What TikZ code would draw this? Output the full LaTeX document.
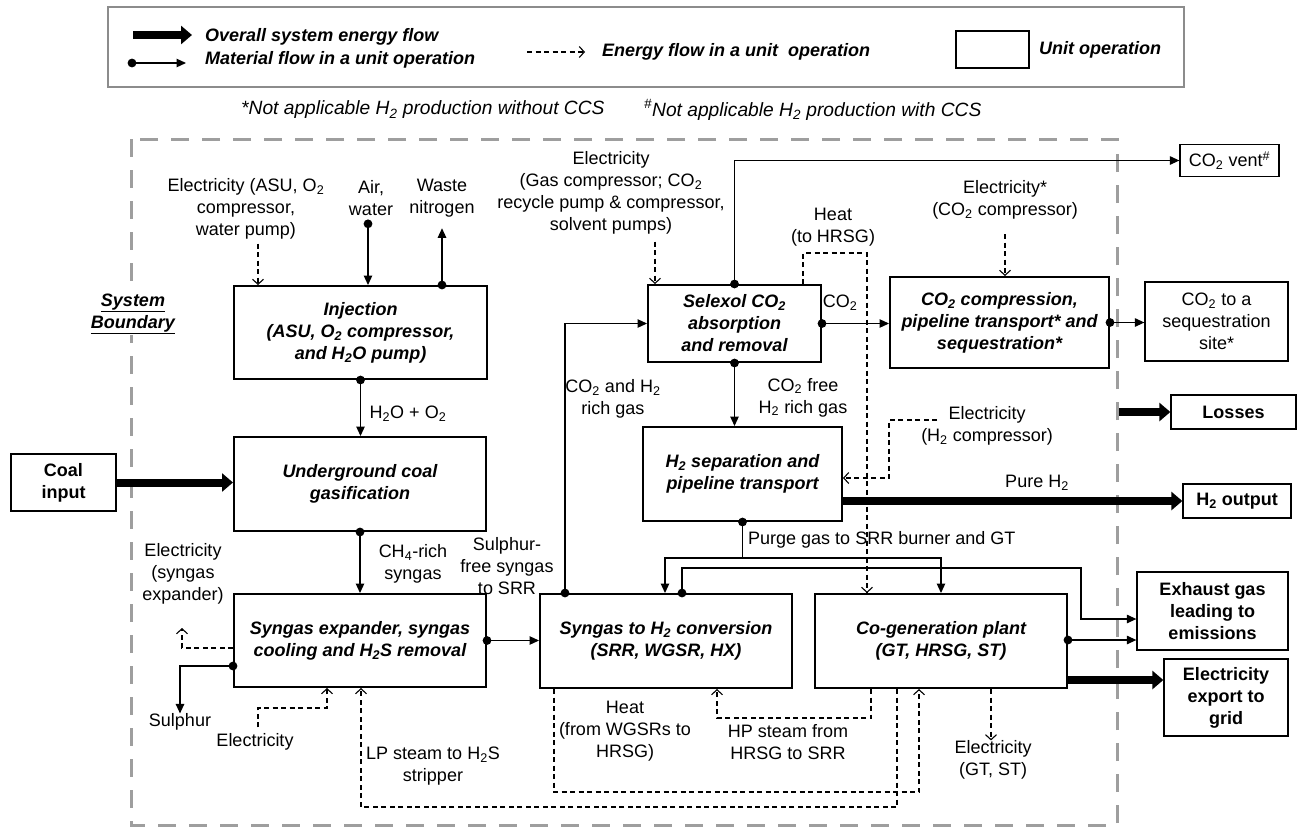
\documentclass[tikz,border=0pt]{standalone}
\usepackage{fontspec}
\setmainfont{Liberation Sans}
\usetikzlibrary{arrows.meta,calc,decorations.markings}
\newcommand{\lsub}[1]{\textsubscript{#1}}
\newcommand{\lfont}{\fontsize{18}{22}\selectfont}
\begin{document}
\begin{tikzpicture}[x=1pt,y=-1pt,
  lbl/.style={align=center, inner sep=0pt, font=\lfont},
  unit/.style={draw, line width=2pt, align=center, inner sep=0pt, font=\lfont\bfseries\itshape},
  outbox/.style={draw, line width=1.3pt, align=center, inner sep=0pt, font=\lfont},
  matplain/.style={line width=1.2pt, -{Triangle[length=9.5pt,width=8.5pt]}},
  matflow/.style={matplain, postaction={decorate, decoration={markings, mark=at position 0 with {\fill (0,0) circle (4.4pt);}}}},
  enflow/.style={line width=1.1pt, dash pattern=on 5pt off 3.5pt, -{Straight Barb[length=5pt,width=11pt]}},
  bigflow/.style={line width=8pt, -{Triangle[length=11pt,width=18pt]}},
  boundary/.style={draw=black!38, line width=3pt, dash pattern=on 18pt off 13pt},
]
\useasboundingbox (0,0) rectangle (1298,828);

% ---------- legend ----------
\draw[draw=black!45, line width=1.5pt] (108,7) rectangle (1184,87);
\coordinate (lgA1) at (133,35); \coordinate (lgA2) at (192,35);
\coordinate (lgB1) at (132,63); \coordinate (lgB2) at (186,63);
\coordinate (lgC1) at (527,52); \coordinate (lgC2) at (585,52);
\draw[bigflow] (lgA1) -- (lgA2);
\draw[matflow] (lgB1) -- (lgB2);
\draw[enflow] (lgC1) -- (lgC2);
\node[lbl, anchor=west, font=\lfont\bfseries\itshape] (lg1) at (205,37) {Overall system energy flow};
\node[lbl, anchor=west, font=\lfont\bfseries\itshape] (lg2) at (205,60) {Material flow in a unit operation};
\node[lbl, anchor=west, font=\lfont\bfseries\itshape] (lg3) at (602,52) {Energy flow in a unit\ \ operation};
\node[draw, line width=1.3pt, minimum width=73pt, minimum height=37pt, inner sep=0pt] (lgbox) at (992.5,49.5) {};
\node[lbl, anchor=west, font=\lfont\bfseries\itshape] (lg4) at (1039,50) {Unit operation};

\node[lbl, anchor=west, font=\fontsize{19.2}{23}\selectfont\itshape] (fn1) at (241,110) {*Not applicable H\lsub{2} production without CCS};
\node[lbl, anchor=west, font=\fontsize{19.2}{23}\selectfont\itshape] (fn2) at (644,110) {\textsuperscript{\#}Not applicable H\lsub{2} production with CCS};

% ---------- system boundary ----------
\draw[boundary] (131,139) rectangle (1117,825);
\node[lbl, fill=white, inner sep=1pt, font=\lfont\bfseries\itshape] (sysb) at (133,314) {\underline{System}\\\underline{Boundary}};

% ---------- unit operations ----------
\node[unit, minimum width=253pt, minimum height=93pt] (inj) at (360.5,332.5) {Injection\\(ASU, O\lsub{2} compressor,\\and H\lsub{2}O pump)};
\node[unit, minimum width=252pt, minimum height=94pt] (ucg) at (360,484) {Underground coal\\gasification};
\node[unit, minimum width=252pt, minimum height=93pt] (sgx) at (360,640.5) {Syngas expander, syngas\\cooling and H\lsub{2}S removal};
\node[unit, minimum width=252pt, minimum height=94pt] (sh2) at (666,641) {Syngas to H\lsub{2} conversion\\(SRR, WGSR, HX)};
\node[unit, minimum width=252pt, minimum height=94pt] (cog) at (941,641) {Co-generation plant\\(GT, HRSG, ST)};
\node[unit, minimum width=173pt, minimum height=77pt] (sel) at (734.5,323.5) {Selexol CO\lsub{2}\\absorption\\and removal};
\node[unit, minimum width=199pt, minimum height=94pt] (h2s) at (742.5,474) {H\lsub{2} separation and\\pipeline transport};
\node[unit, minimum width=219pt, minimum height=91pt] (co2c) at (999.5,322.5) {CO\lsub{2} compression,\\pipeline transport* and\\sequestration*};

% ---------- inputs / outputs ----------
\node[outbox, font=\lfont\bfseries, minimum width=105pt, minimum height=57pt] (coal) at (63.5,482.5) {Coal\\input};
\node[outbox, minimum width=99pt, minimum height=32pt] (vent) at (1229.5,160.5) {CO\lsub{2} vent\textsuperscript{\#}};
\node[outbox, minimum width=143pt, minimum height=79pt] (seq) at (1216.5,321.5) {CO\lsub{2} to a\\sequestration\\site*};
\node[outbox, font=\lfont\bfseries, minimum width=125pt, minimum height=34pt] (loss) at (1233.5,412) {Losses};
\node[outbox, font=\lfont\bfseries, minimum width=108pt, minimum height=34pt] (h2o) at (1237,501) {H\lsub{2} output};
\node[outbox, font=\lfont\bfseries, minimum width=151pt, minimum height=78pt] (exh) at (1212.5,611) {Exhaust gas\\leading to\\emissions};
\node[outbox, font=\lfont\bfseries, minimum width=124pt, minimum height=77pt] (elx) at (1226,697.5) {Electricity\\export to\\grid};

% ---------- labels ----------
\node[lbl] (elinj) at (246,209) {Electricity (ASU, O\lsub{2}\\compressor,\\water pump)};
\node[lbl] (air) at (371,198) {Air,\\water};
\node[lbl] (wn) at (442,198) {Waste\\nitrogen};
\node[lbl] (h2oo2) at (408,414) {H\lsub{2}O + O\lsub{2}};
\node[lbl] (ch4) at (413,564) {CH\lsub{4}-rich\\syngas};
\node[lbl] (sfree) at (507,566) {Sulphur-\\free syngas\\to SRR};
\node[lbl] (elsx) at (183,574) {Electricity\\(syngas\\expander)};
\node[lbl] (sul) at (180,722) {Sulphur};
\node[lbl] (elb) at (255,742) {Electricity};
\node[lbl] (lps) at (433,766) {LP steam to H\lsub{2}S\\stripper};
\node[lbl] (elsel) at (611,193) {Electricity\\(Gas compressor; CO\lsub{2}\\recycle pump \& compressor,\\solvent pumps)};
\node[lbl] (heat1) at (833,227) {Heat\\(to HRSG)};
\node[lbl] (elco2) at (1005,199.5) {Electricity*\\(CO\lsub{2} compressor)};
\node[lbl] (co2lbl) at (840,303) {CO\lsub{2}};
\node[lbl] (co2h2) at (613,399) {CO\lsub{2} and H\lsub{2}\\rich gas};
\node[lbl] (co2free) at (803,397.5) {CO\lsub{2} free\\H\lsub{2} rich gas};
\node[lbl] (elh2) at (987,425.5) {Electricity\\(H\lsub{2} compressor)};
\node[lbl] (pureh2) at (1037,483) {Pure H\lsub{2}};
\node[lbl, anchor=west] (purge) at (748,540) {Purge gas to SRR burner and GT};
\node[lbl] (heat2) at (625,731) {Heat\\(from WGSRs to\\HRSG)};
\node[lbl] (hps) at (788,742) {HP steam from\\HRSG to SRR};
\node[lbl] (elgt) at (993,760) {Electricity\\(GT, ST)};

% ---------- energy flows (dashed) ----------
\coordinate (hh) at (867,253);
\coordinate (eh0) at (937,420);
\coordinate (eh) at (889,478);
\coordinate (es) at (182,628);
\coordinate (eb) at (327,708);
\coordinate (lp) at (361,807);
\coordinate (hp) at (717,718);
\coordinate (hw) at (554,792);
\draw[enflow] ([xshift=12pt,yshift=-4pt]elinj.south) -- ([xshift=12pt]elinj.south |- inj.north);
\draw[enflow] ([xshift=44pt,yshift=-7pt]elsel.south) -- ([xshift=44pt]elsel.south |- sel.north);
\draw[enflow] ([xshift=68.5pt]sel.north) |- (hh) -- (hh |- cog.north);
\draw[enflow] ([yshift=-15pt]elco2.south) -- (elco2.south |- co2c.north);
\draw[enflow] (eh0) -| (eh) -- (eh -| h2s.east);
\draw[enflow] ([yshift=-7.5pt]sgx.west) -| (es);
\draw[enflow] ([xshift=3pt,yshift=6pt]elb.north) |- (eb) -- (eb |- sgx.south);
\draw[enflow] ([xshift=-44pt]cog.south) |- (lp) -- (lp |- sgx.south);
\draw[enflow] ([xshift=-70pt]cog.south) |- (hp) -- (hp |- sh2.south);
\draw[enflow] (hw |- sh2.south) -- (hw) -| ([xshift=-22pt]cog.south);
\draw[enflow] ([xshift=50pt]cog.south) -- ([xshift=50pt]cog.south |- elgt.north);

% ---------- material flows ----------
\coordinate (pj) at ([yshift=-36pt]h2s.south);
\coordinate (ex1) at (1081,568);
\draw[matflow] (inj.south) -- (inj.south |- ucg.north);
\draw[matflow] (ucg.south) -- (sgx.north);
\draw[matflow] ([xshift=-3pt,yshift=-8pt]air.south) -- ([xshift=-3pt]air.south |- inj.north);
\draw[matflow] (wn.south |- inj.north) -- ([yshift=-11pt]wn.south);
\draw[matflow] (sgx.east) -- (sgx.east -| sh2.west);
\draw[matflow] ([yshift=-25.5pt]sgx.west) -| (sul.north);
\draw[matflow] ([xshift=-101pt]sh2.north) |- (sel.west);
\draw[matflow] (sel.north) |- (vent.west);
\draw[matflow] (sel.east) -- (sel.east -| co2c.west);
\draw[matflow] (co2c.east) -- (co2c.east -| seq.west);
\draw[matflow] (sel.south) -- (sel.south |- h2s.north);
\draw[matflow] (h2s.south) -- (pj) -| ([xshift=-1pt]sh2.north);
\draw[matplain] (pj) -| (cog.north);
\draw[matflow] ([xshift=16pt]sh2.north) |- (ex1) |- ([yshift=-8pt]exh.west);
\draw[matflow] ([yshift=1pt]cog.east) -- ([yshift=1pt]cog.east -| exh.west);

% ---------- overall energy flows ----------
\coordinate (ls) at (1119,412);
\draw[bigflow] (coal.east) -- (coal.east -| ucg.west);
\draw[bigflow] ([yshift=-27pt]h2s.east) -- ([yshift=-27pt]h2s.east -| h2o.west);
\draw[bigflow] ([yshift=-39pt]cog.east) -- ([yshift=-39pt]cog.east -| elx.west);
\draw[bigflow] (ls) -- (ls -| loss.west);
\end{tikzpicture}
\end{document}
